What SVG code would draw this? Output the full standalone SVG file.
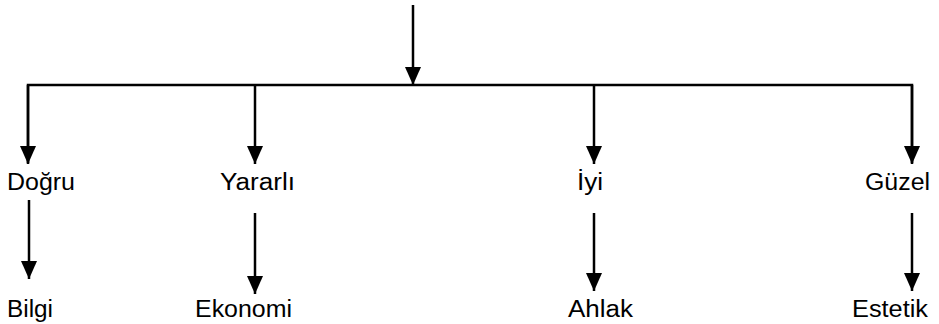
<svg xmlns="http://www.w3.org/2000/svg" width="939" height="324" viewBox="0 0 939 324">
<defs>
<marker id="ah" markerUnits="userSpaceOnUse" markerWidth="18" markerHeight="16" refX="18" refY="8" orient="auto">
<path d="M0,0 L18,8 L0,16 Z" fill="#000"/>
</marker>
<style>
.c{stroke:#000;stroke-width:2.5;fill:none}
.a{marker-end:url(#ah)}
text{font-family:"Liberation Sans",Arial,sans-serif;font-size:23.5px;fill:#000}
</style>
</defs>
<rect width="939" height="324" fill="#fff"/>
<g id="connectors">
<line class="c a" x1="413" y1="5" x2="413" y2="85"/>
<polyline class="c" points="28,163 28,85 912,85 912,163"/>
<line class="c a" x1="28" y1="85" x2="28" y2="164"/>
<line class="c a" x1="255" y1="85" x2="255" y2="164"/>
<line class="c a" x1="594" y1="85" x2="594" y2="164"/>
<line class="c a" x1="912" y1="85" x2="912" y2="164"/>
<line class="c a" x1="29" y1="200" x2="29" y2="279"/>
<line class="c a" x1="255" y1="213" x2="255" y2="294"/>
<line class="c a" x1="594" y1="213" x2="594" y2="291"/>
<line class="c a" x1="912" y1="213" x2="912" y2="291"/>
</g>
<g id="dogru"><text x="7" y="190" textLength="68" lengthAdjust="spacingAndGlyphs">Doğru</text></g>
<g id="yararli"><text x="220" y="190" textLength="75" lengthAdjust="spacingAndGlyphs">Yararlı</text></g>
<g id="iyi"><text x="577" y="190" textLength="26" lengthAdjust="spacingAndGlyphs">İyi</text></g>
<g id="guzel"><text x="865" y="190" textLength="65" lengthAdjust="spacingAndGlyphs">Güzel</text></g>
<g id="bilgi"><text x="7" y="317" textLength="46" lengthAdjust="spacingAndGlyphs">Bilgi</text></g>
<g id="ekonomi"><text x="195" y="317" textLength="97" lengthAdjust="spacingAndGlyphs">Ekonomi</text></g>
<g id="ahlak"><text x="568" y="317" textLength="65" lengthAdjust="spacingAndGlyphs">Ahlak</text></g>
<g id="estetik"><text x="852" y="317" textLength="76" lengthAdjust="spacingAndGlyphs">Estetik</text></g>
</svg>
